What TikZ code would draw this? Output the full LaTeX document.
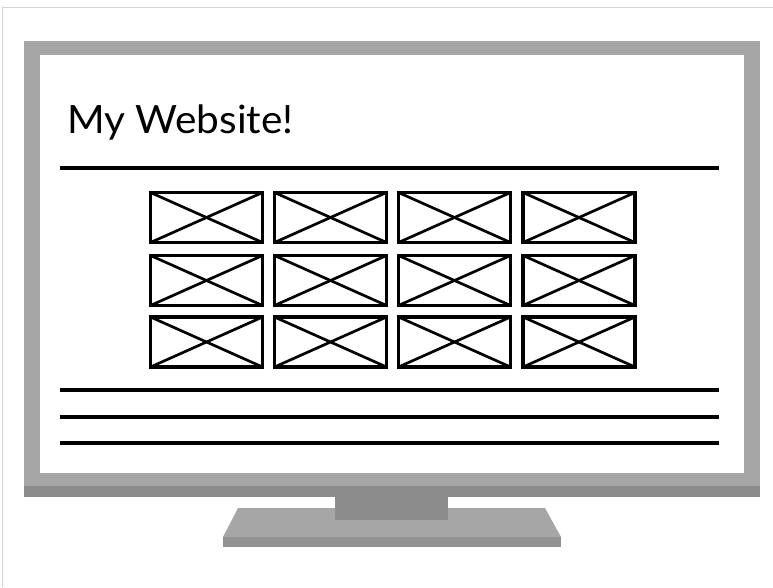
\documentclass[tikz,border=0pt]{standalone}
\usepackage{fontspec}
\setmainfont{Lato}
\definecolor{framegray}{HTML}{A6A6A6}
\definecolor{darkgray2}{HTML}{8C8C8C}
\definecolor{frontgray}{HTML}{939393}
\definecolor{pageline}{HTML}{D4D4D4}
\tikzset{
  thumb/.style={draw=black, line width=3.3pt, fill=white, minimum width=112pt, minimum height=50pt, inner sep=0pt, outer sep=0pt},
  rule/.style={line width=3.6pt, black},
  crossline/.style={line width=2.7pt, black}
}
\begin{document}
\begin{tikzpicture}[x=1pt,y=-1pt]
\useasboundingbox (0,0) rectangle (773,587);
\fill[white] (0,0) rectangle (773,587);
% page border
\draw[pageline, line width=1pt] (2,587) -- (2,7) -- (773,7);
% monitor frame
\fill[framegray] (24,41) rectangle (760,497);
\fill[darkgray2] (24,486) rectangle (760,497);
\fill[white] (40,55) rectangle (744,473);
% neck
\fill[darkgray2] (335,497) rectangle (448,520);
% base
\fill[framegray] (238,508) -- (335,508) -- (335,520) -- (448,520) -- (448,508) -- (545,508) -- (561,537) -- (223,537) -- cycle;
\fill[frontgray] (223,537) rectangle (561,547);
% title
\node[anchor=base west, inner sep=0pt, font=\fontsize{39}{44}\selectfont, xscale=1.04] (title) at (67,133) {My Website!};
% rules
\coordinate (h1) at (60,168); \coordinate (h2) at (719,168);
\draw[rule] (h1) -- (h2);
\foreach \y [count=\i] in {390,417,443} {
  \coordinate (l\i a) at (60,\y); \coordinate (l\i b) at (719,\y);
  \draw[rule] (l\i a) -- (l\i b);
}
% thumbnails
\foreach \cx [count=\c] in {206.5,330.5,454.5,579} {
  \foreach \cy [count=\r] in {217.5,280.5,342} {
    \node[thumb] (t\r\c) at (\cx,\cy) {};
    \draw[crossline] (t\r\c.north west) -- (t\r\c.south east);
    \draw[crossline] (t\r\c.south west) -- (t\r\c.north east);
  }
}
\end{tikzpicture}
\end{document}
